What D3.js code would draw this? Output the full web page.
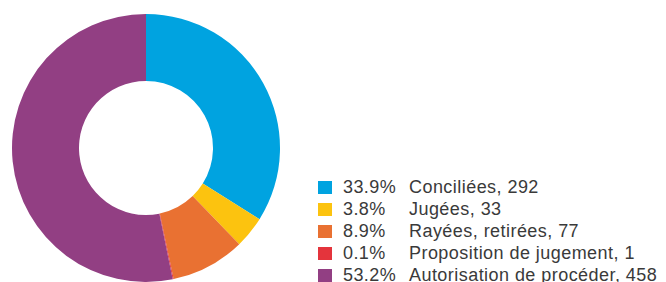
<!DOCTYPE html>
<html>
<head>
<meta charset="utf-8" />
<script src="https://d3js.org/d3.v7.min.js"></script>
<style>
    body { margin: 0; background: #fff; }
    text { font-family: "Liberation Sans", Arial, sans-serif; fill: #3a3a3a; }
</style>
</head>
<body>
<svg id="chart" width="666" height="282"></svg>
<script>
    var categories = ["Conciliées", "Jugées", "Rayées, retirées", "Proposition de jugement", "Autorisation de procéder"];
    var counts = [292, 33, 77, 1, 458];
    var percents = ["33.9%", "3.8%", "8.9%", "0.1%", "53.2%"];
    var colors = ["#00a3e0", "#fcc30f", "#e97132", "#e4343c", "#923f83"];

    var svg = d3.select("#chart");

    var cx = 146, cy = 148, outer = 134, inner = 67;

    var pie = d3.pie().sort(null).value(function(d) { return d; });
    var arc = d3.arc().innerRadius(inner).outerRadius(outer);

    svg.append("g")
        .attr("transform", "translate(" + cx + "," + cy + ")")
        .selectAll("path")
        .data(pie(counts))
        .enter().append("path")
        .attr("d", arc)
        .attr("fill", function(d, i) { return colors[i]; });

    // legend
    var rowY = d3.scaleLinear().domain([0, 1]).range([193, 215]);

    var rows = svg.append("g").selectAll("g")
        .data(categories)
        .enter().append("g")
        .attr("transform", function(d, i) { return "translate(0," + rowY(i) + ")"; });

    rows.append("rect")
        .attr("x", 318)
        .attr("y", -12)
        .attr("width", 14)
        .attr("height", 13)
        .attr("fill", function(d, i) { return colors[i]; });

    rows.append("text")
        .attr("x", 343)
        .attr("font-size", 18)
        .attr("letter-spacing", 0.4)
        .text(function(d, i) { return percents[i]; });

    rows.append("text")
        .attr("x", 409)
        .attr("font-size", 18)
        .attr("letter-spacing", 0.45)
        .text(function(d, i) { return d + ", " + counts[i]; });
</script>
</body>
</html>
